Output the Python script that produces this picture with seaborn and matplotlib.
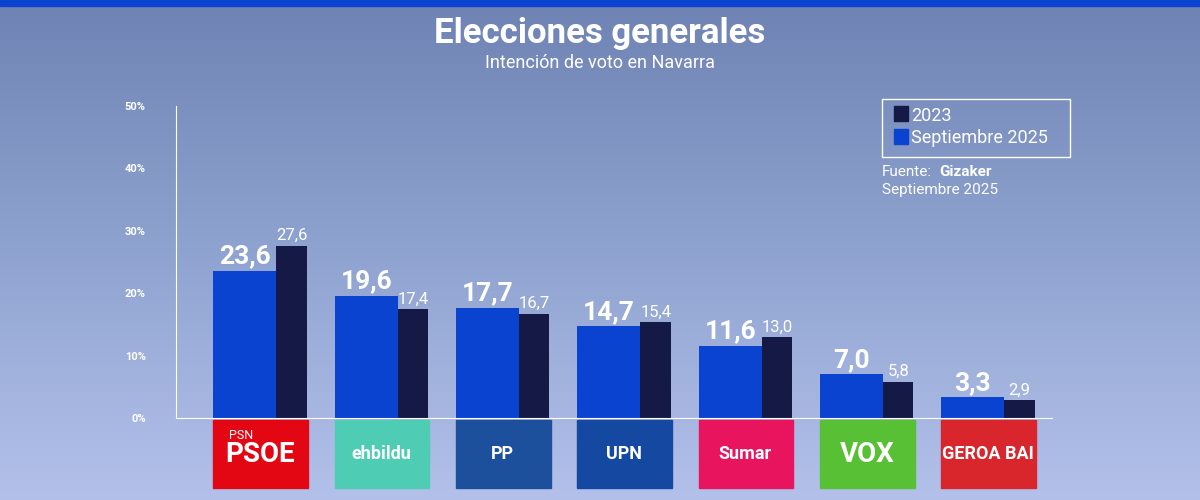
import numpy as np
import pandas as pd
import matplotlib.pyplot as plt
import seaborn as sns
from matplotlib.patches import Rectangle
from matplotlib.colors import LinearSegmentedColormap, to_rgb

parties = ["PSOE", "EH Bildu", "PP", "UPN", "Sumar", "Vox", "Geroa Bai"]
sep_2025 = [23.6, 19.6, 17.7, 14.7, 11.6, 7.0, 3.3]
elec_2023 = [27.6, 17.4, 16.7, 15.4, 13.0, 5.8, 2.9]
series = ["Septiembre 2025", "2023"]
yticks = [0, 10, 20, 30, 40, 50]

BLUE = "#0a43d0"
NAVY = "#141a45"

df = pd.DataFrame({
    "party": parties * 2,
    "serie": [series[0]] * 7 + [series[1]] * 7,
    "value": sep_2025 + elec_2023,
})

sns.set_style("white")
plt.rcParams["font.family"] = ["Roboto", "DejaVu Sans"]
fig = plt.figure(figsize=(12, 5), dpi=100)

# background gradient
bg = fig.add_axes([0, 0, 1, 1])
grad = np.linspace(0, 1, 256).reshape(-1, 1)
cmap = LinearSegmentedColormap.from_list("bg", ["#6e83b3", "#8fa3d0", "#b3c1ea"])
bg.imshow(grad, aspect="auto", cmap=cmap, extent=[0, 1, 0, 1])
bg.add_patch(Rectangle((0, 0.988), 1, 0.012, color="#0a43d0"))
bg.axis("off")
bg.set_xlim(0, 1); bg.set_ylim(0, 1)
bg.text(0.5, 0.932, "Elecciones generales", ha="center", va="center",
        color="white", fontsize=25, fontweight="bold")
bg.text(0.5, 0.875, "Intención de voto en Navarra", ha="center", va="center",
        color="white", fontsize=13)

ax = fig.add_axes([0.147, 0.164, 0.73, 0.624])
sns.barplot(data=df, x="party", y="value", hue="serie", hue_order=series,
            order=parties, palette=[BLUE, NAVY], ax=ax, legend=False,
            saturation=1, width=0.8, linewidth=0)
ax.patch.set_alpha(0)

for p in ax.patches:
    c = p.get_x() + p.get_width() / 2
    p.set_edgecolor("none")
    if np.allclose(p.get_facecolor()[:3], to_rgb(BLUE)):
        gi = round(c + 0.2)
        p.set_x(gi - 0.385); p.set_width(0.52)
    else:
        gi = round(c - 0.2)
        p.set_x(gi + 0.135); p.set_width(0.25)

for i in range(len(parties)):
    ax.text(i - 0.125, sep_2025[i] + 0.4, f"{sep_2025[i]:.1f}".replace(".", ","),
            ha="center", va="bottom", color="white", fontsize=19, fontweight="bold")
    ax.text(i + 0.26, elec_2023[i] + 0.4, f"{elec_2023[i]:.1f}".replace(".", ","),
            ha="center", va="bottom", color="white", fontsize=12)

# party logos
logos = [("#e30613", "PSOE"), ("#4ecdb4", "ehbildu"), ("#1c4f9c", "PP"),
         ("#1548a0", "UPN"), ("#e8145e", "Sumar"), ("#58c035", "VOX"),
         ("#d8262c", "GEROA BAI")]
for i, (col, name) in enumerate(logos):
    ax.add_patch(Rectangle((i - 0.385, -11.2), 0.78, 10.9, color=col, clip_on=False))
    size = 20 if name in ("PSOE", "VOX") else 13
    ax.text(i, -5.8, name, ha="center", va="center", color="white",
            fontsize=size, fontweight="bold", clip_on=False)
ax.text(0 - 0.26, -2.8, "PSN", ha="left", va="center", color="white", fontsize=9)

ax.set_xlim(-0.69, 6.53)
ax.set_ylim(0, 50)
ax.set_yticks(yticks)
ax.set_yticklabels([f"{t}%" for t in yticks], color="white", fontsize=8, fontweight="bold")
ax.set_xticks([])
ax.set_xlabel(""); ax.set_ylabel("")
for s in ["top", "right"]:
    ax.spines[s].set_visible(False)
for s in ["left", "bottom"]:
    ax.spines[s].set_color("white")
ax.tick_params(axis="y", length=0, pad=22)

# legend box
bg.add_patch(Rectangle((0.735, 0.686), 0.157, 0.116, fill=False, ec="white", lw=1))
bg.add_patch(Rectangle((0.745, 0.758), 0.012, 0.03, color=NAVY))
bg.add_patch(Rectangle((0.745, 0.712), 0.012, 0.03, color=BLUE))
bg.text(0.759, 0.768, "2023", color="white", fontsize=13, va="center")
bg.text(0.759, 0.724, "Septiembre 2025", color="white", fontsize=13, va="center")
bg.text(0.735, 0.657, "Fuente:", color="white", fontsize=11, va="center")
bg.text(0.783, 0.657, "Gizaker", color="white", fontsize=11, va="center", fontweight="bold")
bg.text(0.735, 0.62, "Septiembre 2025", color="white", fontsize=11, va="center")

fig.savefig("out.png", dpi=100)
